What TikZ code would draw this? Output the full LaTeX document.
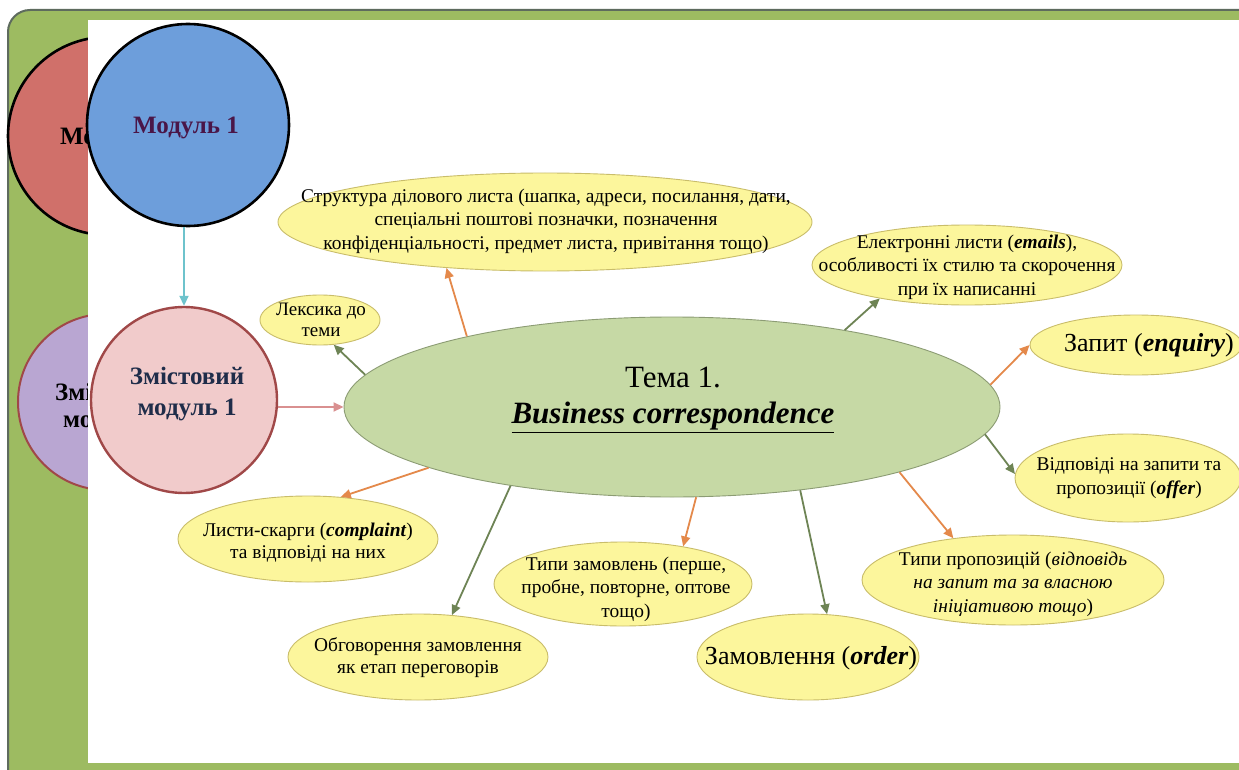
\documentclass[tikz,border=0pt]{standalone}
\usepackage{fontspec}
\setmainfont{Liberation Serif}
\usetikzlibrary{shapes.geometric,arrows.meta}
\definecolor{frameg}{HTML}{9DBB61}
\definecolor{frameb}{HTML}{5E6B5E}
\definecolor{redc}{HTML}{D0706A}
\definecolor{bluec}{HTML}{6D9EDB}
\definecolor{purc}{HTML}{B9A6D2}
\definecolor{pinkc}{HTML}{F1CBCB}
\definecolor{pinkb}{HTML}{A04848}
\definecolor{mainf}{HTML}{C6D9A5}
\definecolor{mainb}{HTML}{8C9C74}
\definecolor{yelf}{HTML}{FCF69C}
\definecolor{yelb}{HTML}{C9BD6A}
\definecolor{orar}{HTML}{E4894B}
\definecolor{grar}{HTML}{6E8455}
\definecolor{cyar}{HTML}{6EC3CC}
\definecolor{pinkar}{HTML}{D99090}
\definecolor{modtxt}{HTML}{4A1648}
\definecolor{zmtxt}{HTML}{1F2D4A}
\tikzset{
  yell/.style={ellipse, draw=yelb, fill=yelf, line width=0.9pt, inner sep=0pt},
  txt/.style={align=center, inner sep=0pt, font=\fontsize{19.4pt}{23.5pt}\selectfont},
  modc/.style={circle, inner sep=0pt},
  bigbold/.style={font=\bfseries\fontsize{25pt}{29pt}\selectfont},
  oarrow/.style={draw=orar, line width=1.8pt, -{Triangle[length=10pt,width=9pt]}},
  garrow/.style={draw=grar, line width=1.8pt, -{Triangle[length=10pt,width=9pt]}},
}
\begin{document}
\begin{tikzpicture}[x=1pt,y=-1pt]
\useasboundingbox (0,0) rectangle (1239,770);
\begin{scope}
\clip (0,0) rectangle (1239,770);
\fill[white] (0,0) rectangle (1239,770);
\draw[fill=frameg, draw=frameb, line width=2pt, rounded corners=22pt] (8,10) rectangle (1300,820);
% background circles (partly hidden)
\node[modc, fill=redc, draw=black, line width=2.6pt, minimum size=198pt] (redcirc) at (107,136) {};
\node[modc, fill=purc, draw=pinkb, line width=2pt, minimum size=176pt] (purcirc) at (106,402) {};
\begin{scope}
\clip (0,0) rectangle (88,770);
\node[bigbold, anchor=west, inner sep=0pt] (redtxt) at (60,136) {Мо};
\node[bigbold, anchor=west, inner sep=0pt] (purtxt1) at (55,392) {Змі};
\node[bigbold, anchor=west, inner sep=0pt] (purtxt2) at (63,422) {мо};
\end{scope}
\fill[white] (88,20) rectangle (1300,763);
\end{scope}
% module circles
\node[modc, fill=bluec, draw=black, line width=2.6pt, minimum size=202pt] (blue) at (188,125) {};
\node[bigbold, text=modtxt] (bluetxt) at (186,128) {Модуль 1};
\node[modc, fill=pinkc, draw=pinkb, line width=2.4pt, minimum size=186pt] (pink) at (184,400) {};
\node[align=center, text=zmtxt, font=\bfseries\fontsize{25pt}{31pt}\selectfont] (pinktxt) at (187,394) {Змістовий\\модуль 1};
% main ellipse
\node[ellipse, draw=mainb, fill=mainf, line width=0.9pt, inner sep=0pt, minimum width=656pt, minimum height=180pt] (main) at (672,407) {};
\node[align=center, inner sep=0pt, font=\fontsize{31pt}{36pt}\selectfont] (maintxt) at (673,400) {Тема 1.\\\underline{\textbf{\textit{Business correspondence}}}};
% yellow ellipses
\node[yell, minimum width=534pt, minimum height=98pt] (s1) at (545,222) {};
\node[txt] (s1t) at (546,221) {Структура ділового листа (шапка, адреси, посилання, дати,\\спеціальні поштові позначки, позначення\\конфіденціальності, предмет листа, привітання тощо)};
\node[yell, minimum width=120pt, minimum height=50pt] (s2) at (320,320) {};
\node[txt, font=\fontsize{19pt}{21pt}\selectfont] (s2t) at (321,320) {Лексика до\\теми};
\node[yell, minimum width=310pt, minimum height=80pt] (s3) at (967,265) {};
\node[txt] (s3t) at (967,267) {Електронні листи (\textbf{\textit{emails}}),\\особливості їх стилю та скорочення\\при їх написанні};
\node[yell, minimum width=212pt, minimum height=60pt] (s4) at (1136,345) {};
\node[txt, font=\fontsize{26pt}{30pt}\selectfont] (s4t) at (1149,345) {Запит (\textbf{\textit{enquiry}})};
\node[yell, minimum width=226pt, minimum height=88pt] (s5) at (1128,478) {};
\node[txt] (s5t) at (1129,478) {Відповіді на запити та\\пропозиції (\textbf{\textit{offer}})};
\node[yell, minimum width=302pt, minimum height=90pt] (s6) at (1013,580) {};
\node[txt] (s6t) at (1013,584) {Типи пропозицій (\textit{відповідь}\\\textit{на запит та за власною}\\\textit{ініціативою тощо})};
\node[yell, minimum width=222pt, minimum height=86pt] (s7) at (808,657) {};
\node[txt, font=\fontsize{26pt}{30pt}\selectfont] (s7t) at (811,658) {Замовлення (\textbf{\textit{order}})};
\node[yell, minimum width=258pt, minimum height=84pt] (s8) at (623,584) {};
\node[txt] (s8t) at (626,589) {Типи замовлень (перше,\\пробне, повторне, оптове\\тощо)};
\node[yell, minimum width=260pt, minimum height=86pt] (s9) at (418,657) {};
\node[txt, font=\fontsize{19.4pt}{22pt}\selectfont] (s9t) at (418,658) {Обговорення замовлення\\як етап переговорів};
\node[yell, minimum width=260pt, minimum height=86pt] (s10) at (308,539) {};
\node[txt, font=\fontsize{19.4pt}{22pt}\selectfont] (s10t) at (308,543) {Листи-скарги (\textbf{\textit{complaint}})\\та відповіді на них};
% connectors
\draw[draw=cyar, line width=1.8pt, -{Triangle[length=10pt,width=9pt]}] (pink.north |- blue.south) -- (pink.north);
\draw[draw=pinkar, line width=1.8pt, -{Triangle[length=10pt,width=9pt]}] (pink.east |- main.west) -- (main.west);
\draw[oarrow] (main.161.6) -- (s1.-155);
\draw[garrow] (main.174) -- (s2.-61);
\draw[garrow] (main.24.5) -- (s3.-159);
\draw[oarrow] (main.4.3) -- (s4.180);
\draw[garrow] (main.-5.7) -- (s5.178);
\draw[oarrow] (main.-16.7) -- (s6.145);
\draw[garrow] (main.-33) -- (s7.66);
\draw[oarrow] (main.-75.8) -- (s8.32);
\draw[garrow] (main.-154.2) -- (s9.51.5);
\draw[oarrow] (main.-166.5) -- (s10.52.7);
\end{tikzpicture}
\end{document}
